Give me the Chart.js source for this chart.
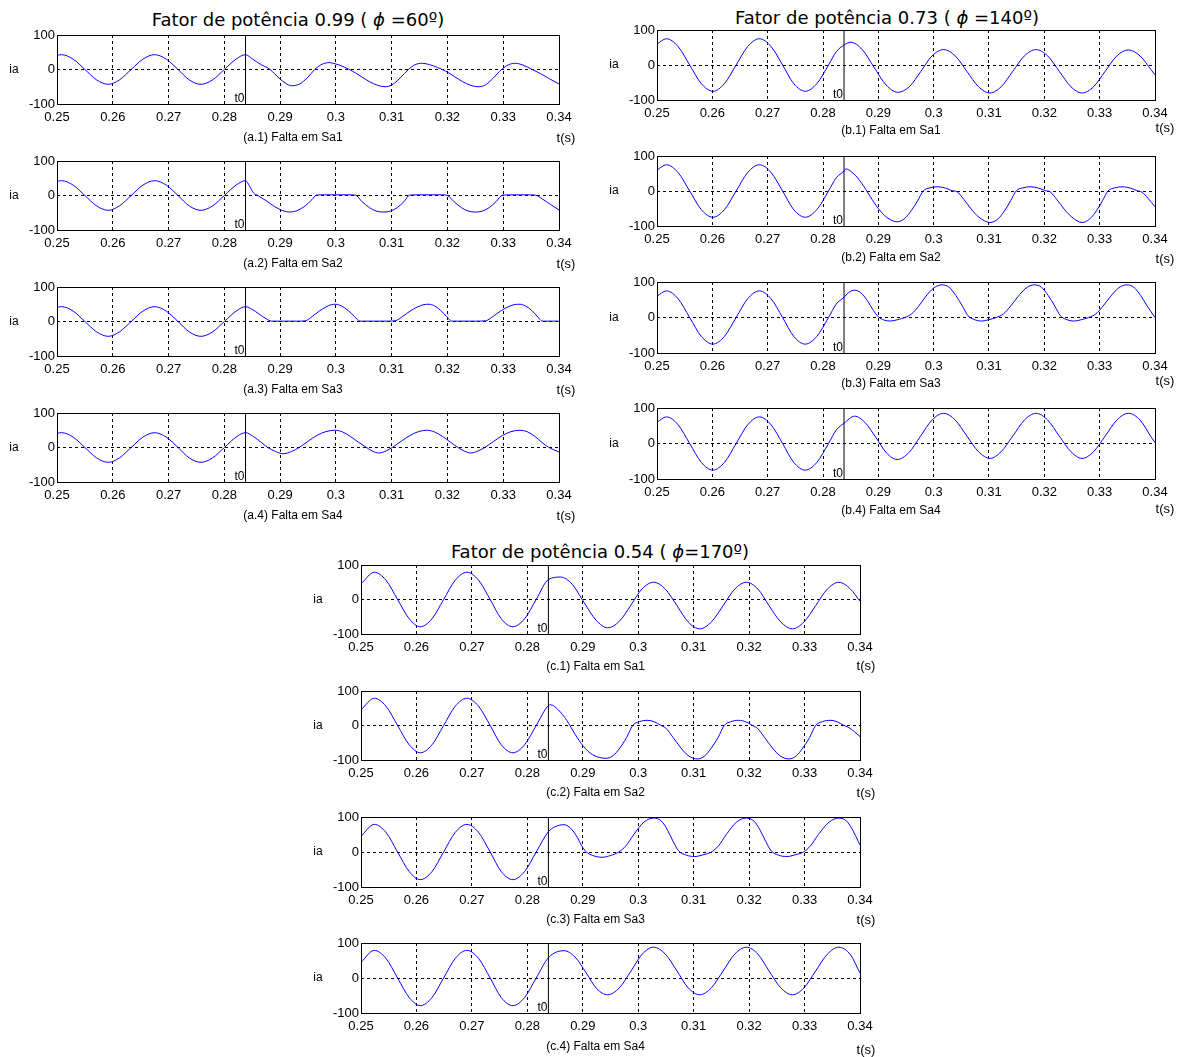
<!DOCTYPE html>
<html>
<head>
<meta charset="utf-8">
<script src="https://cdn.jsdelivr.net/npm/chart.js@4.4.1/dist/chart.umd.min.js"></script>
<style>
  body { margin: 0; background: #fff; }
  #page { position: relative; width: 1185px; height: 1057px; overflow: hidden; background: #fff; }
  canvas { position: absolute; }
  .ttl { position: absolute; font-family: "DejaVu Sans", sans-serif; font-size: 18px; line-height: 20px;
         white-space: nowrap; transform: translateX(-50%); color: #000; }
</style>
</head>
<body>
<div id="page">
  <div class="ttl" style="left:298px; top:10px">Fator de potência 0.99 ( <i>ϕ</i> =60º)</div>
  <div class="ttl" style="left:887px; top:8px">Fator de potência 0.73 ( <i>ϕ</i> =140º)</div>
  <div class="ttl" style="left:600px; top:542px">Fator de potência 0.54 ( <i>ϕ</i>=170º)</div>
</div>
<script>
// eixos
const xTicks = [0.25, 0.26, 0.27, 0.28, 0.29, 0.30, 0.31, 0.32, 0.33, 0.34];
const xTickLabels = ['0.25', '0.26', '0.27', '0.28', '0.29', '0.3', '0.31', '0.32', '0.33', '0.34'];
const yTicks = [-100, 0, 100];
const yTickLabels = ['-100', '0', '100'];
const t0 = 0.2838;

// corrente ia antes da falta (igual nos 4 casos de cada fator de potência)
const aPre = [[0.2500,41],[0.2508,43],[0.2529,30],[0.2550,0],[0.2571,-30],[0.2592,-43],[0.2612,-30],[0.2633,0],[0.2654,30],[0.2675,43],[0.2696,30],[0.2717,0],[0.2737,-30],[0.2758,-43],[0.2779,-30],[0.2800,0],[0.2821,30],[0.2838,43]];
const bPre = [[0.2500,60],[0.2517,75],[0.2538,53],[0.2559,0],[0.2580,-53],[0.2601,-75],[0.2622,-53],[0.2643,0],[0.2664,53],[0.2685,75],[0.2706,53],[0.2727,0],[0.2747,-53],[0.2768,-75],[0.2789,-53],[0.2810,0],[0.2824,38],[0.2838,57]];
const cPre = [[0.2500,45],[0.2524,79],[0.2545,56],[0.2566,0],[0.2587,-56],[0.2607,-79],[0.2628,-56],[0.2649,0],[0.2670,56],[0.2691,79],[0.2712,56],[0.2733,0],[0.2753,-56],[0.2774,-79],[0.2795,-56],[0.2816,0],[0.2838,58]];

// depois da falta - fp 0.99
const a1Post = [[0.2850,31],[0.2865,15],[0.2882,0],[0.2898,-25],[0.2910,-40],[0.2920,-47],[0.2935,-42],[0.2950,-22],[0.2962,0],[0.2975,15],[0.2988,20],[0.3000,16],[0.3015,7],[0.3030,-5],[0.3045,-20],[0.3060,-35],[0.3075,-46],[0.3088,-50],[0.3100,-45],[0.3115,-25],[0.3130,0],[0.3142,14],[0.3155,18],[0.3168,14],[0.3182,6],[0.3197,-5],[0.3212,-20],[0.3227,-35],[0.3242,-46],[0.3255,-50],[0.3268,-45],[0.3282,-25],[0.3297,0],[0.3310,14],[0.3322,18],[0.3335,13],[0.3352,0],[0.3367,-12],[0.3383,-27],[0.3400,-42]];
const a2Post = [[0.2845,28],[0.2852,8],[0.2860,0],[0.2875,-15],[0.2890,-32],[0.2905,-44],[0.2917,-48],[0.2930,-44],[0.2945,-30],[0.2957,-12],[0.2965,1],[0.2980,2],[0.3000,2],[0.3020,2],[0.3035,1],[0.3047,-18],[0.3060,-35],[0.3072,-45],[0.3085,-48],[0.3098,-45],[0.3110,-35],[0.3122,-18],[0.3132,1],[0.3150,2],[0.3170,2],[0.3190,2],[0.3200,0],[0.3212,-18],[0.3225,-35],[0.3237,-45],[0.3250,-48],[0.3263,-45],[0.3275,-35],[0.3287,-18],[0.3299,1],[0.3320,2],[0.3340,2],[0.3358,1],[0.3370,-10],[0.3385,-26],[0.3400,-42]];
const a3Post = [[0.2850,35],[0.2862,22],[0.2875,8],[0.2885,1],[0.2910,1],[0.2930,1],[0.2945,2],[0.2958,15],[0.2970,30],[0.2982,42],[0.2992,49],[0.3000,50],[0.3010,45],[0.3022,32],[0.3033,15],[0.3043,1],[0.3065,1],[0.3085,1],[0.3106,2],[0.3120,15],[0.3133,30],[0.3146,42],[0.3158,49],[0.3167,50],[0.3177,45],[0.3188,32],[0.3198,15],[0.3208,1],[0.3230,1],[0.3250,1],[0.3268,2],[0.3282,15],[0.3295,30],[0.3308,42],[0.3320,49],[0.3330,50],[0.3340,45],[0.3351,32],[0.3361,15],[0.3370,1],[0.3400,1]];
const a4Post = [[0.2852,32],[0.2866,15],[0.2877,1],[0.2892,-12],[0.2905,-18],[0.2920,-12],[0.2935,1],[0.2950,18],[0.2966,35],[0.2982,46],[0.2998,50],[0.3012,45],[0.3026,32],[0.3040,16],[0.3054,1],[0.3066,-11],[0.3077,-16],[0.3090,-10],[0.3102,1],[0.3117,18],[0.3133,35],[0.3148,46],[0.3163,50],[0.3177,45],[0.3191,32],[0.3205,16],[0.3218,1],[0.3231,-11],[0.3242,-16],[0.3255,-10],[0.3268,1],[0.3283,18],[0.3299,35],[0.3314,46],[0.3330,50],[0.3344,45],[0.3357,32],[0.3370,14],[0.3381,1],[0.3400,-13]];

// depois da falta - fp 0.73
const b1Post = [[0.2850,65],[0.2871,44],[0.2892,-6],[0.2914,-57],[0.2935,-78],[0.2956,-62],[0.2977,-18],[0.2997,26],[0.3018,44],[0.3039,26],[0.3060,-18],[0.3081,-62],[0.3102,-80],[0.3122,-62],[0.3143,-18],[0.3164,26],[0.3185,44],[0.3206,26],[0.3227,-18],[0.3248,-62],[0.3268,-80],[0.3289,-62],[0.3310,-18],[0.3331,26],[0.3352,43],[0.3373,26],[0.3394,-16],[0.3400,-28]];
const b2Post = [[0.2841,63],[0.2855,50],[0.2870,22],[0.2885,-15],[0.2900,-50],[0.2915,-75],[0.2934,-88],[0.2948,-78],[0.2960,-55],[0.2971,-28],[0.2981,0],[0.2993,9],[0.3008,12],[0.3022,8],[0.3033,1],[0.3042,-2],[0.3055,-25],[0.3068,-52],[0.3082,-75],[0.3102,-90],[0.3116,-80],[0.3128,-57],[0.3139,-28],[0.3149,0],[0.3161,9],[0.3176,12],[0.3190,8],[0.3202,1],[0.3210,-2],[0.3223,-25],[0.3236,-52],[0.3250,-75],[0.3268,-90],[0.3282,-80],[0.3294,-57],[0.3305,-28],[0.3315,0],[0.3327,9],[0.3342,12],[0.3356,8],[0.3367,1],[0.3376,-3],[0.3388,-22],[0.3400,-45]];
const b3Post = [[0.2846,70],[0.2857,77],[0.2868,70],[0.2880,48],[0.2891,20],[0.2900,2],[0.2910,-7],[0.2922,-10],[0.2935,-6],[0.2948,0],[0.2960,10],[0.2972,30],[0.2985,58],[0.3000,83],[0.3015,92],[0.3028,85],[0.3040,62],[0.3052,32],[0.3062,5],[0.3072,-5],[0.3087,-10],[0.3100,-6],[0.3113,0],[0.3126,10],[0.3138,30],[0.3152,58],[0.3167,83],[0.3182,92],[0.3195,85],[0.3207,62],[0.3219,32],[0.3229,5],[0.3239,-5],[0.3254,-10],[0.3267,-6],[0.3280,0],[0.3293,10],[0.3305,30],[0.3319,58],[0.3334,83],[0.3349,92],[0.3362,85],[0.3374,62],[0.3386,32],[0.3400,0]];
const b4Post = [[0.2857,77],[0.2876,59],[0.2896,16],[0.2915,-27],[0.2934,-45],[0.2955,-26],[0.2976,20],[0.2997,66],[0.3018,85],[0.3039,66],[0.3060,21],[0.3081,-23],[0.3102,-42],[0.3122,-23],[0.3143,21],[0.3164,66],[0.3185,85],[0.3206,66],[0.3227,21],[0.3248,-23],[0.3268,-42],[0.3289,-23],[0.3310,21],[0.3331,66],[0.3352,85],[0.3373,66],[0.3394,16],[0.3400,3]];

// depois da falta - fp 0.54
const c1Post = [[0.2860,65],[0.2881,44],[0.2902,-8],[0.2924,-60],[0.2945,-82],[0.2966,-63],[0.2987,-16],[0.3007,31],[0.3028,50],[0.3049,30],[0.3070,-18],[0.3090,-65],[0.3111,-85],[0.3132,-65],[0.3153,-18],[0.3174,30],[0.3195,50],[0.3216,30],[0.3236,-18],[0.3257,-65],[0.3278,-85],[0.3299,-65],[0.3320,-18],[0.3341,30],[0.3362,50],[0.3383,30],[0.3400,-5]];
const c2Post = [[0.2842,60],[0.2856,45],[0.2871,15],[0.2886,-25],[0.2901,-60],[0.2918,-85],[0.2942,-95],[0.2955,-87],[0.2967,-65],[0.2979,-35],[0.2990,0],[0.3002,11],[0.3016,15],[0.3030,10],[0.3040,1],[0.3050,-8],[0.3063,-35],[0.3077,-65],[0.3090,-87],[0.3107,-97],[0.3120,-88],[0.3132,-65],[0.3144,-35],[0.3155,0],[0.3167,11],[0.3181,15],[0.3195,10],[0.3205,1],[0.3215,-8],[0.3228,-35],[0.3242,-65],[0.3255,-87],[0.3272,-97],[0.3285,-88],[0.3297,-65],[0.3309,-35],[0.3320,0],[0.3332,11],[0.3346,15],[0.3360,10],[0.3370,1],[0.3380,-6],[0.3390,-18],[0.3400,-32]];
const c3Post = [[0.2850,72],[0.2866,78],[0.2878,68],[0.2890,42],[0.2898,18],[0.2905,2],[0.2918,-10],[0.2935,-15],[0.2950,-10],[0.2965,0],[0.2978,18],[0.2992,50],[0.3010,85],[0.3028,97],[0.3042,88],[0.3053,62],[0.3063,30],[0.3073,3],[0.3087,-9],[0.3102,-13],[0.3117,-8],[0.3132,0],[0.3145,18],[0.3159,50],[0.3177,85],[0.3195,97],[0.3209,88],[0.3220,62],[0.3230,30],[0.3240,3],[0.3253,-9],[0.3268,-13],[0.3283,-8],[0.3298,0],[0.3311,18],[0.3325,50],[0.3344,85],[0.3362,97],[0.3376,88],[0.3387,62],[0.3397,30],[0.3400,20]];
const c4Post = [[0.2866,78],[0.2886,60],[0.2906,15],[0.2925,-30],[0.2945,-48],[0.2966,-28],[0.2987,20],[0.3007,68],[0.3028,88],[0.3049,68],[0.3070,20],[0.3090,-28],[0.3111,-48],[0.3132,-28],[0.3153,20],[0.3174,68],[0.3195,88],[0.3216,68],[0.3236,20],[0.3257,-28],[0.3278,-48],[0.3299,-28],[0.3320,20],[0.3341,68],[0.3362,88],[0.3383,66],[0.3400,14]];

const panels = [
  { id: 'a1', pre: aPre, post: a1Post, caption: '(a.1) Falta em Sa1' },
  { id: 'a2', pre: aPre, post: a2Post, caption: '(a.2) Falta em Sa2' },
  { id: 'a3', pre: aPre, post: a3Post, caption: '(a.3) Falta em Sa3' },
  { id: 'a4', pre: aPre, post: a4Post, caption: '(a.4) Falta em Sa4' },
  { id: 'b1', pre: bPre, post: b1Post, caption: '(b.1) Falta em Sa1' },
  { id: 'b2', pre: bPre, post: b2Post, caption: '(b.2) Falta em Sa2' },
  { id: 'b3', pre: bPre, post: b3Post, caption: '(b.3) Falta em Sa3' },
  { id: 'b4', pre: bPre, post: b4Post, caption: '(b.4) Falta em Sa4' },
  { id: 'c1', pre: cPre, post: c1Post, caption: '(c.1) Falta em Sa1' },
  { id: 'c2', pre: cPre, post: c2Post, caption: '(c.2) Falta em Sa2' },
  { id: 'c3', pre: cPre, post: c3Post, caption: '(c.3) Falta em Sa3' },
  { id: 'c4', pre: cPre, post: c4Post, caption: '(c.4) Falta em Sa4' }
];

// posição de cada área de plotagem na página
const boxes = {
  a1: { left: 57, top: 35, w: 502, h: 69, cap: 34, ts: 34, tsx: 7 },
  a2: { left: 57, top: 161, w: 502, h: 69, cap: 34, ts: 34, tsx: 7 },
  a3: { left: 57, top: 287, w: 502, h: 69, cap: 34, ts: 34, tsx: 7 },
  a4: { left: 57, top: 413, w: 502, h: 69, cap: 34, ts: 34, tsx: 7 },
  b1: { left: 657, top: 30, w: 498, h: 70, cap: 31, ts: 28, tsx: 10 },
  b2: { left: 657, top: 156, w: 498, h: 70, cap: 32, ts: 33, tsx: 10 },
  b3: { left: 657, top: 282, w: 498, h: 71, cap: 31, ts: 28, tsx: 10 },
  b4: { left: 657, top: 408, w: 498, h: 71, cap: 32, ts: 30, tsx: 10 },
  c1: { left: 361, top: 565, w: 499, h: 69, cap: 33, ts: 32, tsx: 6 },
  c2: { left: 361, top: 691, w: 499, h: 69, cap: 33, ts: 33, tsx: 6 },
  c3: { left: 361, top: 817, w: 499, h: 70, cap: 33, ts: 33, tsx: 6 },
  c4: { left: 361, top: 943, w: 499, h: 70, cap: 34, ts: 37, tsx: 6 }
};

const PAD_L = 55, PAD_R = 35, PAD_T = 12, PAD_B = 50;

Chart.defaults.font.family = '"Liberation Sans", Arial, sans-serif';
Chart.defaults.color = '#000';

// moldura, ia, t0, t(s) e legenda de cada subgráfico
const frame = {
  id: 'frame',
  afterDraw(chart, args, o) {
    const { ctx, chartArea: a, scales: { x, y } } = chart;
    ctx.save();
    ctx.setLineDash([]);
    ctx.strokeStyle = '#000';
    ctx.lineWidth = 1;
    ctx.strokeRect(a.left + 0.5, a.top + 0.5, a.right - a.left, a.bottom - a.top);
    ctx.fillStyle = '#000';
    ctx.font = '12px "Liberation Sans", Arial, sans-serif';
    ctx.textAlign = 'center';
    ctx.textBaseline = 'middle';
    ctx.fillText('ia', a.left - 43, y.getPixelForValue(0));
    ctx.fillText(o.caption, (a.left + a.right) / 2 - 15, a.bottom + o.cap);
    ctx.font = '13px "Liberation Sans", Arial, sans-serif';
    ctx.fillText('t(s)', a.right + o.tsx, a.bottom + o.ts);
    ctx.font = '12px "Liberation Sans", Arial, sans-serif';
    ctx.textAlign = 'right';
    ctx.textBaseline = 'bottom';
    ctx.fillText('t0', x.getPixelForValue(t0) - 1, a.bottom + 1);
    ctx.restore();
  }
};

const page = document.getElementById('page');

panels.forEach(p => {
  const b = boxes[p.id];
  const cv = document.createElement('canvas');
  cv.width = b.w + PAD_L + PAD_R;
  cv.height = b.h + PAD_T + PAD_B;
  cv.style.left = (b.left - PAD_L) + 'px';
  cv.style.top = (b.top - PAD_T) + 'px';
  page.appendChild(cv);

  const pts = p.pre.concat(p.post).map(q => ({ x: q[0], y: q[1] }));

  new Chart(cv, {
    type: 'line',
    data: {
      datasets: [{
        data: pts,
        borderColor: '#0000ff',
        borderWidth: 1,
        pointRadius: 0,
        tension: 0.4,
        cubicInterpolationMode: 'monotone'
      }, {
        data: [{ x: t0, y: -100 }, { x: t0, y: 100 }],
        borderColor: '#000',
        borderWidth: 1,
        pointRadius: 0
      }]
    },
    options: {
      responsive: false,
      animation: false,
      events: [],
      layout: { padding: { left: 0, right: PAD_R, top: PAD_T, bottom: 0 } },
      plugins: {
        legend: { display: false },
        tooltip: { enabled: false },
        frame: { caption: p.caption, cap: b.cap, ts: b.ts, tsx: b.tsx }
      },
      scales: {
        x: {
          type: 'linear',
          min: 0.25,
          max: 0.34,
          afterBuildTicks: s => { s.ticks = xTicks.map(v => ({ value: v })); },
          afterFit: s => { s.height = PAD_B; },
          ticks: {
            autoSkip: false,
            maxRotation: 0,
            padding: 6,
            font: { size: 13 },
            callback: (v, i) => xTickLabels[i]
          },
          grid: { color: '#000', lineWidth: 1, drawTicks: false },
          border: { display: false, dash: [3, 3] }
        },
        y: {
          type: 'linear',
          min: -100,
          max: 100,
          afterBuildTicks: s => { s.ticks = yTicks.map(v => ({ value: v })); },
          afterFit: s => { s.width = PAD_L; },
          ticks: {
            padding: 2,
            font: { size: 13 },
            callback: (v, i) => yTickLabels[i]
          },
          grid: { color: '#000', lineWidth: 1, drawTicks: false },
          border: { display: false, dash: [3, 3] }
        }
      }
    },
    plugins: [frame]
  });
});
</script>
</body>
</html>
